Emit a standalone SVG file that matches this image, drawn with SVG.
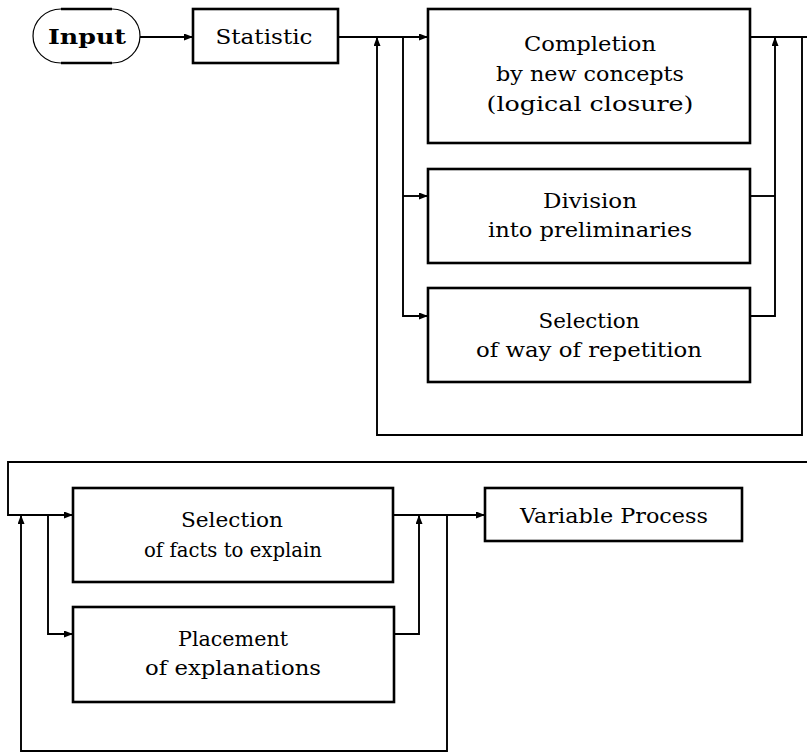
<svg xmlns="http://www.w3.org/2000/svg" width="807" height="754" viewBox="0 0 807 754">
  <style>
    .box { fill: #fff; stroke: #000; stroke-width: 2.6; }
    .wire { fill: none; stroke: #000; stroke-width: 1.9; }
    text { font-family: "DejaVu Serif", "Liberation Serif", serif; font-size: 21px; fill: #000; text-anchor: middle; }
    .bold { font-size: 21px; font-weight: bold; }
  </style>
  <defs>
    <marker id="arrow" markerUnits="userSpaceOnUse" markerWidth="10" markerHeight="8" refX="9" refY="3.5" orient="auto">
      <path d="M0,0 L9,3.5 L0,7 z" fill="#000"/>
    </marker>
  </defs>

  <rect width="807" height="754" fill="#fff"/>

  <!-- connectors -->
  <g id="connectors">
    <path class="wire" d="M140,37 H193" marker-end="url(#arrow)"/>
    <path class="wire" d="M338,37 H428" marker-end="url(#arrow)"/>
    <path class="wire" d="M403,37 V316 H428" marker-end="url(#arrow)"/>
    <path class="wire" d="M403,196 H428" marker-end="url(#arrow)"/>
    <path class="wire" d="M750,37 H807"/>
    <path class="wire" d="M750,196 H775"/>
    <path class="wire" d="M750,316 H775 V37" marker-end="url(#arrow)"/>
    <path class="wire" d="M802,37 V435 H377 V37" marker-end="url(#arrow)"/>

    <path class="wire" d="M807,462 H8 V515 H73" marker-end="url(#arrow)"/>
    <path class="wire" d="M48,515 V634 H73" marker-end="url(#arrow)"/>
    <path class="wire" d="M393,515 H485" marker-end="url(#arrow)"/>
    <path class="wire" d="M394,634 H419 V515" marker-end="url(#arrow)"/>
    <path class="wire" d="M447,515 V751 H21 V515" marker-end="url(#arrow)"/>
  </g>

  <!-- start terminal -->
  <g id="input">
    <path d="M61,9 H112 A28,27 0 0 1 112,63 H61 A28,27 0 0 1 61,9 Z" fill="#fff" stroke="#000" stroke-width="1.2"/>
    <path d="M61,9 H112 M61,63 H112" stroke="#000" stroke-width="2.4"/>
    <text class="bold" x="87" y="44" textLength="78" lengthAdjust="spacingAndGlyphs">Input</text>
  </g>

  <g id="statistic">
    <rect class="box" x="193" y="9" width="145" height="54"/>
    <text x="264" y="44" textLength="97" lengthAdjust="spacingAndGlyphs">Statistic</text>
  </g>

  <g id="completion">
    <rect class="box" x="428" y="9" width="322" height="134"/>
    <text x="590" y="51" textLength="132" lengthAdjust="spacingAndGlyphs">Completion</text>
    <text x="590" y="81" textLength="188" lengthAdjust="spacingAndGlyphs">by new concepts</text>
    <text x="590" y="111" textLength="207" lengthAdjust="spacingAndGlyphs">(logical closure)</text>
  </g>

  <g id="division">
    <rect class="box" x="428" y="169" width="322" height="94"/>
    <text x="590" y="208" textLength="94" lengthAdjust="spacingAndGlyphs">Division</text>
    <text x="590" y="237" textLength="204" lengthAdjust="spacingAndGlyphs">into preliminaries</text>
  </g>

  <g id="selection-repetition">
    <rect class="box" x="428" y="288" width="322" height="94"/>
    <text x="589" y="328" textLength="101" lengthAdjust="spacingAndGlyphs">Selection</text>
    <text x="589" y="357" textLength="226" lengthAdjust="spacingAndGlyphs">of way of repetition</text>
  </g>

  <g id="selection-facts">
    <rect class="box" x="73" y="488" width="320" height="94"/>
    <text x="232" y="527" textLength="102" lengthAdjust="spacingAndGlyphs">Selection</text>
    <text x="233" y="557" textLength="178" lengthAdjust="spacingAndGlyphs">of facts to explain</text>
  </g>

  <g id="placement">
    <rect class="box" x="73" y="607" width="321" height="95"/>
    <text x="233" y="646" textLength="110" lengthAdjust="spacingAndGlyphs">Placement</text>
    <text x="233" y="675" textLength="176" lengthAdjust="spacingAndGlyphs">of explanations</text>
  </g>

  <g id="variable-process">
    <rect class="box" x="485" y="488" width="257" height="53"/>
    <text x="614" y="523" textLength="188" lengthAdjust="spacingAndGlyphs">Variable Process</text>
  </g>
</svg>
